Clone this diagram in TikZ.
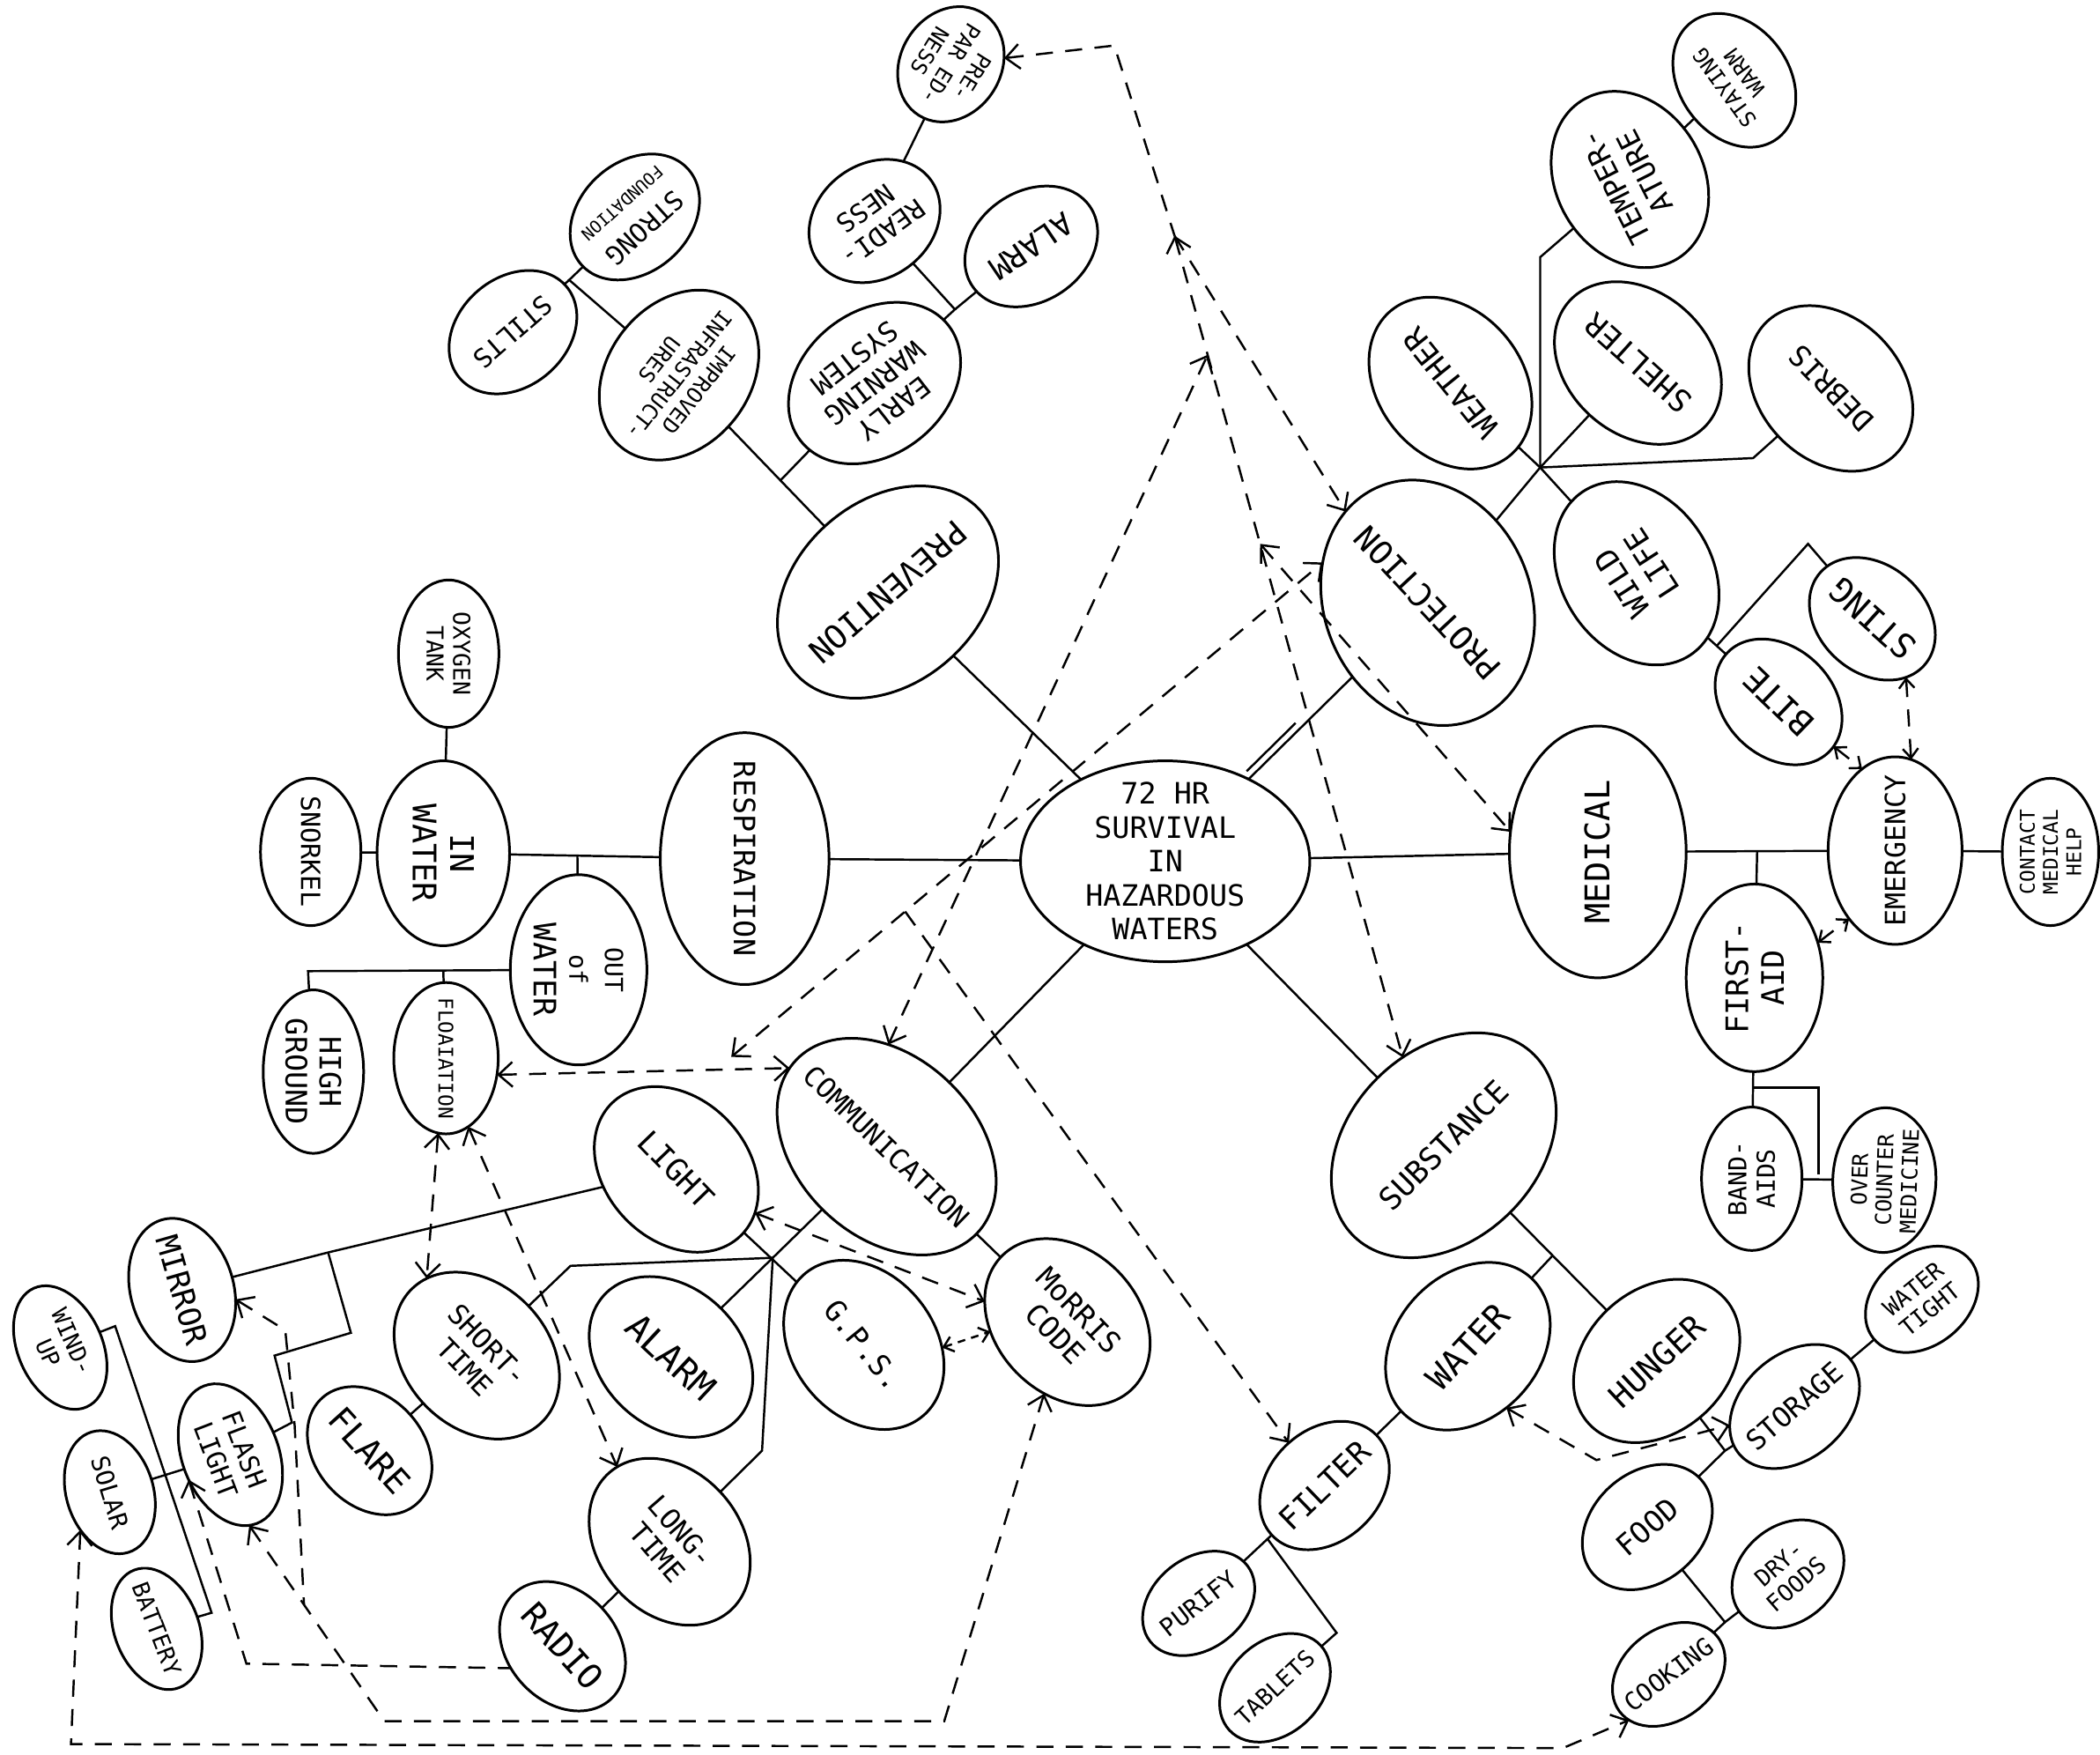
\documentclass[tikz,border=0pt]{standalone}
\usepackage{fontspec}
\newfontfamily\hand{DejaVu Sans Mono}
\usetikzlibrary{arrows.meta,calc,shapes.geometric}
\def\U{0.015204cm}
\tikzset{
  ell/.style={draw, ellipse, line width=0.85pt, inner sep=0pt, outer sep=0pt},
  lbl/.style={inner sep=0pt, outer sep=0pt, align=center},
  con/.style={line width=0.7pt},
  dsh/.style={line width=0.7pt, dash pattern=on 5.5pt off 4pt},
  dotl/.style={line width=0.7pt, dash pattern=on 2.5pt off 2pt},
  arrB/.style={{Straight Barb[length=4.5pt,width=8pt]}-{Straight Barb[length=4.5pt,width=8pt]}},
  arrE/.style={-{Straight Barb[length=4.5pt,width=8pt]}},
  arrS/.style={{Straight Barb[length=4.5pt,width=8pt]}-},
  arrT/.style={{Straight Barb[length=3pt,width=5pt]}-{Straight Barb[length=3pt,width=5pt]}},
}
\newcommand\mmnode[9]{%
  \node[ell, rotate=#4, minimum width=#5*\U, minimum height=#6*\U] (#1) at (#2,#3) {};
  \node[lbl, rotate=#7, font=\hand\fontsize{#8}{\fpeval{#8*1.15}}\selectfont] (#1-t) at (#2,#3) {#9};}
\begin{document}
\begin{tikzpicture}[x=\U, y=-\U]
\useasboundingbox (0,0) rectangle (1568,1310);
\fill[white] (0,0) rectangle (1568,1310);

% main
\mmnode{ctr}{870}{643}{0}{216}{150}{0}{9.5}{72 HR\\SURVIVAL\\IN\\HAZARDOUS\\WATERS}
\mmnode{prev}{663}{442}{221}{184}{136}{221}{10.5}{PREVENTION}
\mmnode{prot}{1066}{450}{113}{188}{154}{133}{10.5}{PROTECTION}
\mmnode{resp}{556}{641}{-90}{188}{126}{-90}{9.5}{RESPIRATION}
\mmnode{med}{1193}{636}{90}{188}{132}{90}{11}{MEDICAL}
\mmnode{subst}{1078}{855}{45}{191}{141}{45}{10}{SUBSTANCE}
\mmnode{comm}{662}{856}{-44}{187}{134}{-44}{9}{COMMUNICATION}

% prevention cluster
\mmnode{prep}{710}{48}{238}{90}{75}{238}{7}{PRE-\\PAR ED-\\NESS}
\mmnode{ready}{653}{165}{216}{104}{85}{216}{8.5}{READI-\\NESS}
\mmnode{alarmA}{770}{184}{214}{106}{82}{214}{10}{ALARM}
\mmnode{ew}{653}{286}{218}{140}{107}{218}{9}{EARLY\\WARNING\\SYSTEM}
\mmnode{impr}{507}{280}{232}{138}{106}{232}{7}{IMPROVED\\INFRASTRUCT-\\URES}
\mmnode{strong}{474}{162}{222}{107}{82}{222}{8.5}{STRONG\\{\fontsize{5.5}{6.5}\selectfont FOUNDATION}}
\mmnode{stilts}{383}{248}{221}{105}{81}{221}{8.5}{STILTS}

% protection cluster
\mmnode{weather}{1083}{286}{129}{140}{108}{129}{10}{WEATHER}
\mmnode{shelter}{1223}{271}{138}{138}{106}{138}{10}{SHELTER}
\mmnode{debris}{1367}{290}{134}{138}{106}{134}{9.5}{DEBRIS}
\mmnode{temp}{1217}{134}{120}{138}{110}{117}{9.5}{TEMPER-\\ATURE}
\mmnode{stay}{1295}{60}{126}{108}{82}{126}{7}{STAYING\\WARM}
\mmnode{wild}{1222}{428}{123}{146}{112}{123}{10}{WILD\\LIFE}
\mmnode{sting}{1398}{462}{138}{104}{80}{138}{11}{STING}
\mmnode{bite}{1328}{524}{136}{106}{81}{136}{11}{BITE}

% medical cluster
\mmnode{emer}{1415}{635}{90}{140}{100}{90}{9}{EMERGENCY}
\mmnode{contact}{1531}{636}{90}{110}{72}{90}{6.5}{CONTACT\\MEDICAL\\HELP}
\mmnode{first}{1310}{730}{90}{140}{102}{90}{10}{FIRST-\\AID}
\mmnode{band}{1308}{880}{90}{107}{75}{90}{8}{BAND-\\AIDS}
\mmnode{otc}{1407}{881}{88}{108}{77}{88}{7}{OVER\\COUNTER\\MEDICINE}

% substance cluster
\mmnode{water}{1096}{1005}{47}{139}{107}{47}{11}{WATER}
\mmnode{hunger}{1237}{1016}{43}{138}{106}{43}{10.5}{HUNGER}
\mmnode{stor}{1340}{1050}{41}{109}{78}{41}{9}{STORAGE}
\mmnode{wtight}{1435}{970}{39}{93}{69}{39}{7.5}{WATER\\TIGHT}
\mmnode{food}{1230}{1140}{41}{107}{82}{41}{9.5}{FOOD}
\mmnode{dry}{1335}{1175}{41}{92}{71}{41}{7.5}{DRY-\\FOODS}
\mmnode{cook}{1246}{1250}{37}{92}{68}{37}{8}{COOKING}
\mmnode{filter}{989}{1109}{44}{108}{83}{44}{10}{FILTER}
\mmnode{purify}{895}{1197}{38}{92}{68}{38}{8}{PURIFY}
\mmnode{tablets}{952}{1260}{43}{93}{69}{43}{7.5}{TABLETS}

% communication cluster
\mmnode{morris}{797}{987}{-46}{139}{107}{-46}{9.5}{MoRRIS\\CODE}
\mmnode{gps}{645}{1004}{-51}{138}{106}{-51}{9.5}{G.P.S.}
\mmnode{light}{505}{873}{-46}{138}{106}{-46}{10}{LIGHT}
\mmnode{alarmB}{501}{1013}{-43}{136}{104}{-43}{11.5}{ALARM}
\mmnode{short}{356}{1012}{-46}{139}{107}{-46}{9}{SHORT-\\TIME}
\mmnode{long}{500}{1151}{-49}{137}{106}{-49}{9}{LONG-\\TIME}
\mmnode{flare}{276}{1083}{-48}{106}{81}{-48}{11}{FLARE}
\mmnode{radio}{420}{1229}{-48}{107}{82}{-48}{11}{RADIO}
\mmnode{mirror}{136}{963}{-74}{109}{77}{-74}{10}{MIRROR}
\mmnode{wind}{45}{1006}{-66}{97}{63}{-66}{7.5}{WIND-\\UP}
\mmnode{flash}{172}{1086}{-69}{110}{72}{-69}{8.5}{FLASH\\LIGHT}
\mmnode{solar}{82}{1114}{-73}{94}{65}{-73}{8}{SOLAR}
\mmnode{batt}{117}{1216}{-69}{94}{63}{-69}{7.5}{BATTERY}

% respiration cluster
\mmnode{oxy}{335}{488}{-90}{110}{75}{-90}{7.5}{OXYGEN\\TANK}
\mmnode{inw}{331}{637}{-90}{138}{99}{-90}{10.5}{IN\\WATER}
\mmnode{snork}{232}{636}{-90}{110}{75}{-90}{8.5}{SNORKEL}
\mmnode{outw}{432}{724}{-90}{142}{102}{-90}{10}{{\fontsize{8}{9}\selectfont OUT}\\{\fontsize{8}{9}\selectfont of}\\WATER}
\mmnode{hg}{234}{800}{-90}{122}{75}{-90}{9.5}{HIGH\\GROUND}
\mmnode{float}{333}{790}{-90}{113}{78}{-90}{6.5}{FLOAIATION}

% ---------- solid connectors ----------
\draw[con] (ctr) -- (prev);
\draw[con] (ctr) -- (prot);
\path (ctr) -- (prot) coordinate[pos=0.03] (dbA) coordinate[pos=0.5] (dbB);
\draw[con] ([shift={(-1.6pt,1.6pt)}]dbA) -- ([shift={(-1.6pt,1.6pt)}]dbB);
\draw[con] (ctr) -- (resp);
\draw[con] (ctr) -- (med);
\draw[con] (ctr) -- (comm);
\draw[con] (ctr) -- (subst);

% prevention
\draw[con] (prev) -- (impr) coordinate[pos=0.46] (j1);
\draw[con] (j1) -- (ew);
\coordinate (j2) at (425,209);
\draw[con] (impr) -- (j2) -- (strong);
\draw[con] (j2) -- (stilts);
\coordinate (j3) at (713,231);
\draw[con] (ew) -- (j3) -- (ready);
\draw[con] (j3) -- (alarmA);
\draw[con] (ready) -- (prep);

% protection
\coordinate (h1) at (1150,349);
\draw[con] (prot) -- (h1) -- (weather);
\draw[con] (h1) -- (shelter);
\draw[con] (h1) -- (wild);
\coordinate (tv) at (1150,192);
\draw[con] (h1) -- (tv) -- (temp);
\coordinate (dv) at (1309,342);
\draw[con] (h1) -- (dv) -- (debris);
\draw[con] (temp) -- (stay);
\draw[con] (wild) -- (bite) coordinate[pos=0.5] (jw);
\coordinate (pk) at (1350,406);
\draw[con] (jw) -- (pk) -- (sting);

% medical
\draw[con] (med) -- (emer) coordinate[pos=0.5] (jm);
\draw[con] (jm) -- (first);
\draw[con] (emer) -- (contact);
\draw[con] (first) -- (band) coordinate[pos=0.45] (jf);
\coordinate (jo) at (1358,877);
\draw[con] (jf) -| (jo);
\draw[con] (band) -- (otc);

% substance
\draw[con] (subst) -- (hunger) coordinate[pos=0.44] (js);
\draw[con] (js) -- (water);
\draw[con] (water) -- (filter);
\draw[con] (filter) -- (purify) coordinate[pos=0.15] (jfl);
\coordinate (tc) at (998,1219);
\draw[con] (jfl) -- (tc) -- (tablets);
\coordinate (jh) at (1288,1083);
\draw[con] (hunger) -- (jh) -- (stor);
\draw[con] (food) -- (jh);
\draw[con] (stor) -- (wtight);
\coordinate (jc) at (1288,1211);
\draw[con] (food) -- (jc) -- (dry);
\draw[con] (jc) -- (cook);

% respiration
\draw[con] (inw) -- (resp) coordinate[pos=0.45] (jr);
\draw[con] (jr) -- (outw);
\draw[con] (inw) -- (snork);
\draw[con] (inw) -- (oxy);
\coordinate (jo1) at (230,725);
\coordinate (jo2) at (331,725);
\draw[con] (outw) -- (jo1) -- (hg);
\draw[con] (jo2) -- (float);

% communication
\coordinate (hc) at (577,939);
\draw[con] (comm) -- (hc) -- (alarmB);
\coordinate (ts) at (426,945);
\draw[con] (hc) -- (ts) -- (short);
\coordinate (tl) at (569,1083);
\draw[con] (hc) -- (tl) -- (long);
\draw[con] (light) -- (gps);
\draw[con] (comm) -- (morris);
\draw[con] (flare) -- (short);
\draw[con] (radio) -- (long);
\coordinate (jl) at (245,935);
\draw[con] (light) -- (jl) -- (mirror);
\coordinate (z1) at (262,995);
\coordinate (z2) at (205,1012);
\coordinate (z3) at (218,1062);
\draw[con] (jl) -- (z1) -- (z2) -- (z3) -- (flash);
\coordinate (w1) at (86,990);
\coordinate (w2) at (158,1204);
\draw[con] (wind) -- (w1) -- (w2) -- (batt);
\draw[con] (solar) -- (flash);

% ---------- dashed connectors ----------
\coordinate (dP) at (877,176);
\coordinate (dc1) at (832,34);
\draw[dsh, arrS] (prep) -- (dc1) -- (dP);
\draw[dsh, arrB] (dP) -- (subst.70);
\draw[dsh, arrE] (dP) -- (prot.19);
\coordinate (dL1) at ($(dP)!0.145!(subst.70)$);
\coordinate (dD3) at ($(dP)!0.375!(subst.70)$);
\draw[dsh, arrB] (comm.133) -- (dL1);
\draw[dsh, arrB] (dD3) -- (med.77);
\coordinate (eL2) at (546,789);
\draw[dsh, arrB] (eL2) -- (prot.46);
\coordinate (fS) at ($(eL2)!0.294!(prot.46)$);
\draw[dsh, arrE] (fS) -- (filter.86);

\draw[dsh, arrB] (float.72) -- (comm.185);
\draw[dsh, arrB] (float.354) -- (short.169);
\draw[dsh, arrB] (float.18) -- (long.174);
\draw[dsh, arrB] (light.17) -- (morris.212);
\draw[dotl, arrT] (gps.49) -- (morris.233);

\coordinate (m1) at (213,993);
\coordinate (m2) at (220,1064);
\coordinate (m3) at (227,1198);
\draw[dsh, arrS] (mirror.64) -- (m1) -- (m2) -- (m3);
\coordinate (bc1) at (287,1285);
\coordinate (bc2) at (705,1285);
\draw[dsh, arrB] (flash.354) -- (bc1) -- (bc2) -- (morris.298);
\coordinate (rc) at (184,1242);
\draw[dsh, arrS] (flash.280) -- (rc) -- (radio.251);
\coordinate (sb1) at (53,1302);
\coordinate (sb2) at (1167,1305);
\draw[dsh, arrB] (solar.305) -- (sb1) -- (sb2) -- (cook.192);
\coordinate (wc) at (1192,1090);
\draw[dsh, arrB] (water.255) -- (wc) -- (stor.155);

\draw[dsh, arrT] (sting.162) -- (emer.350);
\draw[dsh, arrT] (bite.185) -- (emer.22);
\draw[dsh, arrT] (first.299) -- (emer.146);
\end{tikzpicture}
\end{document}
